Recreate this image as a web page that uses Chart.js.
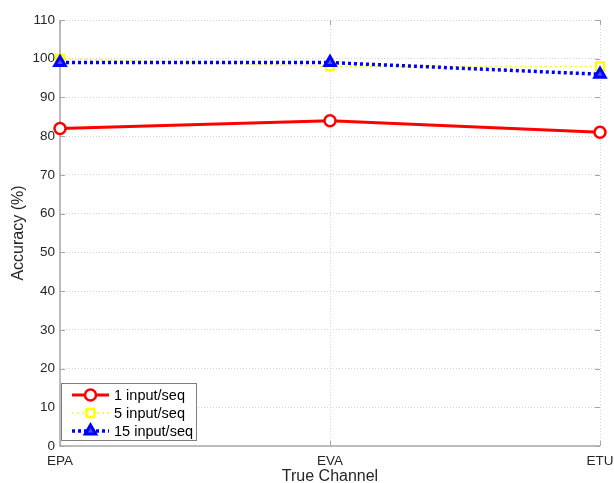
<!DOCTYPE html>
<html>
<head>
<meta charset="utf-8">
<script src="https://cdn.jsdelivr.net/npm/chart.js@4/dist/chart.umd.min.js"></script>
<style>
  html, body { margin: 0; padding: 0; background: #fff; }
  #wrap { width: 614px; height: 483px; position: relative; }
</style>
</head>
<body>
<div id="wrap"><canvas id="c" width="614" height="483"></canvas></div>
<script>
// Channels on the x axis
const channels = ['EPA', 'EVA', 'ETU'];

// Accuracy (%) per channel for each input count
const oneInput = [82, 84, 81];
const fiveInput = [100, 98, 98];
const fifteenInput = [99, 99, 96];

// Y axis ticks
const yTicks = [0, 10, 20, 30, 40, 50, 60, 70, 80, 90, 100, 110];

const FONT = '"Liberation Sans", Arial, sans-serif';
const TEXT = '#262626';
const AXIS = '#a6a6a6';
const GRID = '#d4d4d4';

const datasets = [
  {
    label: '1 input/seq', data: oneInput, order: 0,
    borderColor: '#ff0000', borderWidth: 3,
    pointStyle: 'circle', pointRadius: 5.5, pointBorderWidth: 2.5,
    pointBackgroundColor: '#ffffff', pointBorderColor: '#ff0000'
  },
  {
    label: '5 input/seq', data: fiveInput, order: 2,
    borderColor: '#ffff00', borderWidth: 1.5, borderDash: [2, 3],
    pointStyle: 'rect', pointRadius: 5.5, pointBorderWidth: 2.5,
    pointBackgroundColor: '#ffffff', pointBorderColor: '#ffff00'
  },
  {
    label: '15 input/seq', data: fifteenInput, order: 1,
    borderColor: '#0000ff', borderWidth: 3.5, borderDash: [3, 3],
    pointStyle: 'triangle', pointRadius: 6, pointBorderWidth: 3,
    pointBackgroundColor: '#4d4dff', pointBorderColor: '#0000ff'
  }
];
datasets.forEach(d => { d.fill = false; d.tension = 0; d.clip = false; });

// Axis lines, short inward tick marks and the in-plot legend box
const decorations = {
  id: 'decorations',
  beforeDatasetsDraw(chart) {
    const ctx = chart.ctx;
    const { left, right, top, bottom } = chart.chartArea;
    const y = chart.scales.y, x = chart.scales.x;
    ctx.save();
    ctx.strokeStyle = AXIS;
    ctx.lineWidth = 1.5;
    ctx.beginPath();
    ctx.moveTo(left, top); ctx.lineTo(left, bottom); ctx.lineTo(right, bottom);
    ctx.stroke();
    ctx.lineWidth = 1;
    ctx.beginPath();
    yTicks.forEach(v => {
      const py = Math.round(y.getPixelForValue(v)) + 0.5;
      ctx.moveTo(left, py); ctx.lineTo(left + 5, py);
      ctx.moveTo(right, py); ctx.lineTo(right - 5, py);
    });
    channels.forEach((c, i) => {
      const px = Math.round(x.getPixelForValue(i)) + 0.5;
      ctx.moveTo(px, bottom); ctx.lineTo(px, bottom - 5);
      ctx.moveTo(px, top); ctx.lineTo(px, top + 5);
    });
    ctx.stroke();
    ctx.restore();
  },
  afterDatasetsDraw(chart) {
    const ctx = chart.ctx;
    ctx.save();
    const bx = 61.5, by = 383.5, bw = 135, bh = 57;
    ctx.fillStyle = '#ffffff';
    ctx.fillRect(bx, by, bw, bh);
    ctx.strokeStyle = '#7f7f7f';
    ctx.lineWidth = 1;
    ctx.strokeRect(bx, by, bw, bh);
    const rows = [395, 413, 431];
    datasets.forEach((d, i) => {
      const ry = rows[i];
      ctx.save();
      ctx.strokeStyle = d.borderColor;
      ctx.lineWidth = d.borderWidth;
      ctx.setLineDash(d.borderDash || []);
      ctx.beginPath();
      ctx.moveTo(72, ry); ctx.lineTo(109, ry);
      ctx.stroke();
      ctx.restore();
      ctx.save();
      ctx.fillStyle = d.pointBackgroundColor;
      ctx.strokeStyle = d.pointBorderColor;
      ctx.lineWidth = d.pointBorderWidth;
      Chart.helpers.drawPoint(ctx, {
        pointStyle: d.pointStyle, radius: d.pointRadius,
        borderWidth: d.pointBorderWidth, rotation: 0
      }, 90.5, ry);
      ctx.restore();
      ctx.fillStyle = '#000000';
      ctx.font = '14.5px ' + FONT;
      ctx.textBaseline = 'middle';
      ctx.textAlign = 'left';
      ctx.fillText(d.label, 114, ry + 1);
    });
    ctx.restore();
  }
};

new Chart(document.getElementById('c'), {
  type: 'line',
  data: { labels: channels, datasets },
  options: {
    responsive: false,
    animation: false,
    layout: { padding: { left: 0, right: 14, top: 20, bottom: 0 } },
    plugins: { legend: { display: false }, tooltip: { enabled: false } },
    scales: {
      x: {
        type: 'category',
        offset: false,
        grid: {
          color: (c) => c.index === 1 || c.index === 2 ? GRID : 'rgba(0,0,0,0)',
          lineWidth: 1, drawTicks: false
        },
        border: { display: false, dash: [1, 2] },
        ticks: { color: TEXT, font: { family: FONT, size: 13.5 }, padding: 7, maxRotation: 0 },
        title: { display: true, text: 'True Channel', color: TEXT,
          font: { family: FONT, size: 16, lineHeight: 1 }, padding: { top: 0, bottom: -1.5 } },
        afterFit: (s) => { s.height = 37; s.paddingRight = 0; s.paddingLeft = 0; }
      },
      y: {
        min: 0, max: 110,
        afterBuildTicks: (s) => { s.ticks = yTicks.map(v => ({ value: v })); },
        grid: { color: (c) => c.tick && c.tick.value === 0 ? 'rgba(0,0,0,0)' : GRID,
          lineWidth: 1, drawTicks: false },
        border: { display: false, dash: [1, 2] },
        ticks: { color: TEXT, font: { family: FONT, size: 13.5 }, padding: 5 },
        title: { display: true, text: 'Accuracy (%)', color: TEXT,
          font: { family: FONT, size: 16, lineHeight: 1 }, padding: { top: 11, bottom: 0 } },
        afterFit: (s) => { s.width = 60; s.paddingTop = 0; s.paddingBottom = 0; }
      }
    }
  },
  plugins: [decorations]
});
</script>
</body>
</html>
